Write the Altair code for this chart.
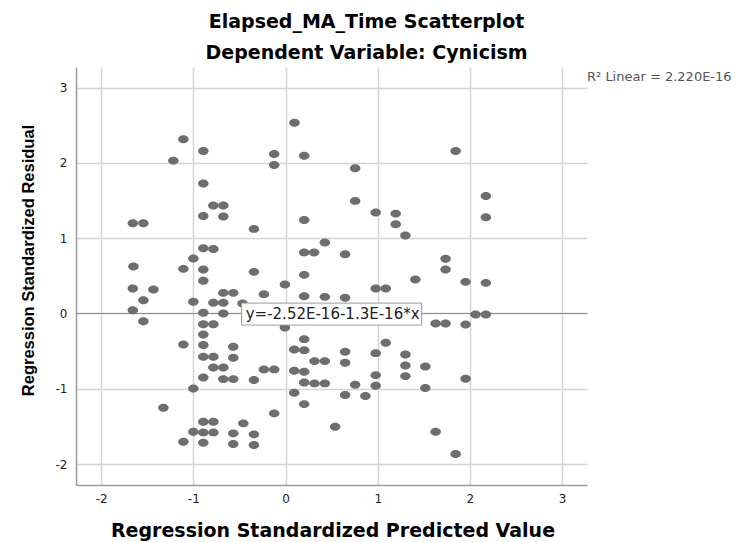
import altair as alt
import pandas as pd

# ---- data ----
pred = [0.097, -1.108, -0.892, -1.217, -0.123, -0.123, 0.202, -0.892, -0.783, -0.675,
        -0.892, -0.675, -1.657, -1.542, -0.343, 0.202, -0.892, -0.783, 0.202, 0.310,
        -1.0, -1.650, -1.108, -0.892, -0.343, 0.202,
        0.755, 1.845, 0.755, 2.173, 2.173, 0.978, 1.195, 1.195, 1.300, 0.426,
        0.646, 1.736, 1.736,
        1.408, 1.953, 2.173, 0.978, 1.087, 0.202, 0.426, 0.646, 1.628, 1.736,
        1.953, 2.061, 2.173, 0.202, 0.202, 0.314, 0.426, 0.646, 0.646, 0.978,
        1.087, 1.300, 1.300, 1.300, 1.516, 0.202, 0.202, 0.314, 0.426, 0.755,
        0.978, 0.978, 1.953, 1.516, 0.646, 0.866, 0.202, 0.538, 1.628, 1.845,
        -0.892, -1.657, -1.433, -1.542, -1.657, -1.542, -1.0, -0.783, -0.675, -0.675,
        -0.567, -0.235, -0.007, -0.466, -0.892, -0.675, -0.892, -0.783, -0.007, -0.892,
        -1.108, -0.892, -0.567, -0.892, -0.783, -0.567, 0.094, -0.783, -0.675, -0.235,
        -0.123, 0.094, -0.892, -0.675, -0.567, -0.343, -1.0, 0.094, -1.325, -0.123,
        -0.892, -0.783, -0.458, -1.0, -0.892, -0.783, -0.567, -0.343, -1.108, -0.892,
        -0.567, -0.343]
resid = [2.535, 2.314, 2.159, 2.031, 2.119, 1.973, 2.097, 1.726, 1.434, 1.434,
         1.296, 1.288, 1.199, 1.199, 1.124, 1.243, 0.867, 0.858, 0.810, 0.810,
         0.730, 0.624, 0.593, 0.584, 0.553, 0.513,
         1.929, 2.159, 1.496, 1.562, 1.279, 1.341, 1.327, 1.186, 1.035, 0.942,
         0.788, 0.726, 0.584,
         0.451, 0.420, 0.407, 0.332, 0.332, 0.230, 0.221, 0.208, -0.133, -0.133,
         -0.146, -0.013, -0.013, -0.341, -0.487, -0.633, -0.633, -0.509, -0.655, -0.527,
         -0.389, -0.544, -0.690, -0.832, -0.704, -0.774, -0.916, -0.929, -0.929, -0.947,
         -0.819, -0.960, -0.867, -0.991, -1.084, -1.097, -1.204, -1.504, -1.571, -1.867,
         0.434, 0.332, 0.319, 0.177, 0.044, -0.102, 0.155, 0.142, 0.142, 0.274,
         0.274, 0.257, 0.385, 0.133, 0.009, 0.0, -0.142, -0.142, -0.186, -0.279,
         -0.412, -0.420, -0.442, -0.575, -0.575, -0.588, -0.478, -0.717, -0.717, -0.743,
         -0.743, -0.761, -0.850, -0.872, -0.872, -0.885, -0.996, -1.053, -1.252, -1.327,
         -1.438, -1.438, -1.460, -1.571, -1.580, -1.580, -1.593, -1.606, -1.704, -1.717,
         -1.735, -1.748]

x_domain = [-2.273, 3.27]
y_domain = [-2.279, 3.275]
tick_values = [-2, -1, 0, 1, 2, 3]

fit_intercept = -2.52e-16
fit_slope = -1.3e-16
fit_label = ["y=-2.52E-16-1.3E-16*x"]
fit_label_pos = [-0.432, -0.01]
fit_box_x = [-0.476, 1.476]
fit_box_y = [-0.154, 0.138]

r2_label = ["R\u00b2 Linear = 2.220E-16"]
r2_pos = [3.27, 3.14]

title_lines = ["Elapsed_MA_Time Scatterplot", "Dependent Variable: Cynicism"]
x_title = "Regression Standardized Predicted Value"
y_title = "Regression Standardized Residual"

# ---- tables ----
pts = pd.DataFrame({"x": pred, "y": resid})
fit = pd.DataFrame({"x": x_domain,
                    "y": [fit_intercept + fit_slope * v for v in x_domain]})
box = pd.DataFrame({"x": [fit_box_x[0]], "x2": [fit_box_x[1]],
                    "y": [fit_box_y[0]], "y2": [fit_box_y[1]]})
lab = pd.DataFrame({"x": [fit_label_pos[0]], "y": [fit_label_pos[1]], "t": fit_label})
r2 = pd.DataFrame({"x": [r2_pos[0]], "y": [r2_pos[1]], "t": r2_label})

W, H = 511, 418

xscale = alt.Scale(domain=x_domain, nice=False, zero=False)
yscale = alt.Scale(domain=y_domain, nice=False, zero=False)

x_axis = alt.Axis(values=tick_values, title=x_title, grid=True,
                  gridColor="#d4d4d4", gridWidth=1.5,
                  domainColor="#9a9a9a", domainWidth=1.5,
                  ticks=False, tickSize=0,
                  labelFont="DejaVu Sans", labelFontSize=12, labelColor="#222222",
                  labelPadding=8, labelExpr="'' + datum.value",
                  titleFont="DejaVu Sans", titleFontSize=19, titleFontWeight="bold",
                  titleColor="#000000", titleX=W / 2 + 1, titleY=51,
                  titleBaseline="alphabetic", titleAlign="center")
y_axis = alt.Axis(values=tick_values, title=y_title, grid=True,
                  gridColor="#d4d4d4", gridWidth=1.5,
                  domainColor="#9a9a9a", domainWidth=1.5,
                  ticks=False, tickSize=0,
                  labelFont="DejaVu Sans", labelFontSize=12, labelColor="#222222",
                  labelPadding=9, labelExpr="'' + datum.value",
                  titleFont="Liberation Sans", titleFontSize=16.5,
                  titleFontWeight="bold", titleColor="#000000",
                  titleX=-43, titleY=193, titleBaseline="alphabetic",
                  titleAlign="center")


def X(field="x"):
    return alt.X(f"{field}:Q", scale=xscale, axis=x_axis)


def Y(field="y"):
    return alt.Y(f"{field}:Q", scale=yscale, axis=y_axis)


ELLIPSE = "M-1,0A1,0.75,0,1,1,1,0A1,0.75,0,1,1,-1,0Z"

line = alt.Chart(fit).mark_line(color="#8a8a8a", strokeWidth=1).encode(x=X(), y=Y())
points = alt.Chart(pts).mark_point(shape=ELLIPSE, filled=True, size=112,
                                   color="#6e6e6e", opacity=1, strokeWidth=0).encode(
    x=X(), y=Y())
rect = alt.Chart(box).mark_rect(fill="white", stroke="#9a9a9a", strokeWidth=1).encode(
    x=X(), x2="x2", y=Y(), y2="y2")
text = alt.Chart(lab).mark_text(align="left", baseline="middle", font="DejaVu Sans",
                                fontSize=15, color="#222222").encode(
    x=X(), y=Y(), text="t:N")
r2text = alt.Chart(r2).mark_text(align="left", baseline="middle", font="DejaVu Sans",
                                 fontSize=13, color="#555555").encode(
    x=X(), y=Y(), text="t:N")

chart = alt.layer(line, points, rect, text, r2text).properties(
    width=W, height=H,
    autosize=alt.AutoSizeParams(type="none"),
    padding={"left": 76, "top": 67, "right": 152, "bottom": 57},
    background="white",
    title=alt.TitleParams(text=title_lines, font="DejaVu Sans", fontSize=19,
                          fontWeight="bold", color="#000000", lineHeight=31,
                          anchor="middle", dx=35, offset=4),
).configure_view(strokeWidth=0)

chart.save("out.html", embed_options={"renderer": "svg", "actions": False})
